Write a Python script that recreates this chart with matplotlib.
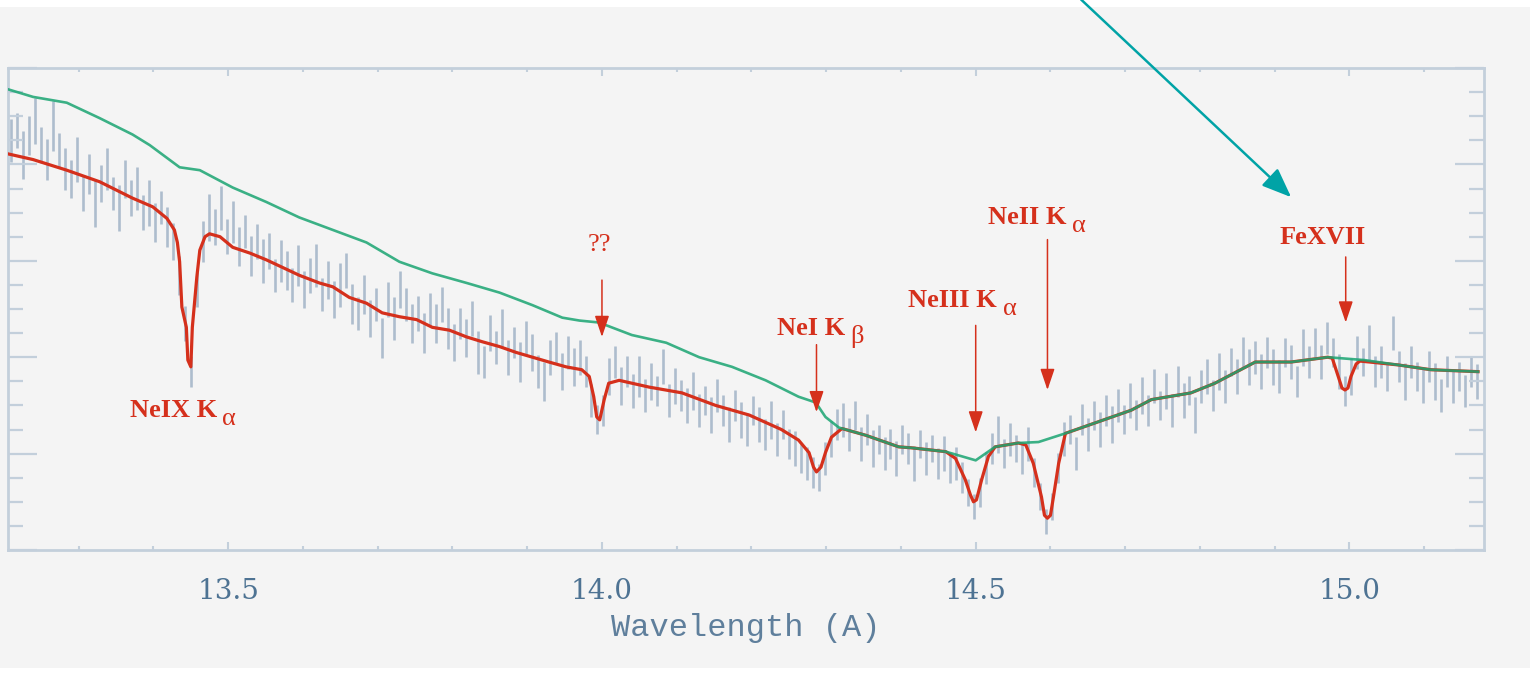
import numpy as np
import matplotlib
matplotlib.use("Agg")
import matplotlib.pyplot as plt
from matplotlib.patches import Rectangle
from matplotlib.ticker import MultipleLocator, FixedLocator, NullFormatter

# ---------------- data ----------------
wl_start = 13.210
wl_step = 0.008
flux = [
    4.25, 4.35, 4.10, 4.30, 4.45, 4.20, 4.05, 4.40, 4.15, 3.95,
    3.85, 4.05, 3.70, 3.90, 3.60, 3.80, 3.95, 3.70, 3.55, 3.85,
    3.65, 3.75, 3.50, 3.60, 3.40, 3.55, 3.35, 3.20, 2.85, 2.35,
    1.85, 2.70, 3.20, 3.45, 3.35, 3.55, 3.25, 3.40, 3.15, 3.30,
    3.05, 3.20, 3.00, 3.10, 2.85, 3.00, 2.90, 2.75, 2.95, 2.70,
    2.85, 2.95, 2.65, 2.80, 2.60, 2.75, 2.90, 2.55, 2.45, 2.65,
    2.40, 2.55, 2.20, 2.60, 2.40, 2.70, 2.55, 2.35, 2.45, 2.25,
    2.50, 2.35, 2.55, 2.30, 2.15, 2.35, 2.20, 2.40, 2.05, 1.95,
    2.25, 2.10, 2.30, 2.00, 2.15, 1.95, 2.20, 2.05, 1.85, 1.75,
    2.00, 2.10, 1.85, 2.05, 1.90, 2.00, 1.85, 1.55, 1.35, 1.45,
    1.80, 1.95, 1.70, 1.85, 1.65, 1.80, 1.60, 1.75, 1.65, 1.90,
    1.55, 1.70, 1.60, 1.50, 1.65, 1.45, 1.55, 1.40, 1.60, 1.45,
    1.30, 1.50, 1.35, 1.25, 1.45, 1.30, 1.20, 1.35, 1.15, 1.30,
    1.10, 1.05, 0.95, 0.90, 0.80, 0.75, 0.95, 1.15, 1.30, 1.35,
    1.20, 1.40, 1.10, 1.25, 1.05, 1.15, 1.00, 1.10, 0.95, 1.15,
    1.05, 0.90, 1.10, 0.95, 1.05, 0.90, 1.00, 0.85, 0.90, 0.75,
    0.60, 0.45, 0.60, 0.85, 1.05, 1.20, 1.00, 1.15, 1.05, 0.95,
    1.10, 0.80, 0.55, 0.30, 0.45, 0.85, 1.15, 1.25, 1.00, 1.35,
    1.20, 1.40, 1.25, 1.45, 1.30, 1.50, 1.35, 1.55, 1.40, 1.60,
    1.45, 1.70, 1.50, 1.65, 1.45, 1.75, 1.55, 1.65, 1.40, 1.70,
    1.80, 1.60, 1.85, 1.70, 1.95, 1.80, 2.05, 1.90, 2.00, 1.85,
    2.05, 1.90, 1.80, 2.05, 1.95, 1.75, 2.10, 1.95, 2.15, 1.95,
    2.20, 2.05, 1.85, 1.65, 1.80, 2.05, 1.95, 2.15, 1.85, 1.95,
    1.80, 2.25, 1.90, 1.75, 1.95, 1.80, 1.70, 1.90, 1.75, 1.60,
    1.85, 1.70, 1.80, 1.65, 1.85, 1.75,
]
flux_err = [
    .22, .18, .25, .20, .24, .19, .21, .26, .18, .22,
    .20, .23, .18, .21, .25, .19, .22, .17, .24, .20,
    .19, .22, .18, .24, .20, .17, .21, .19, .20, .18,
    .16, .18, .21, .24, .19, .23, .18, .22, .20, .17,
    .21, .18, .23, .19, .17, .22, .20, .18, .21, .19,
    .18, .22, .17, .20, .19, .23, .18, .21, .17, .20,
    .19, .17, .21, .18, .22, .19, .17, .20, .18, .21,
    .17, .20, .18, .21, .19, .16, .20, .18, .22, .17,
    .19, .17, .20, .18, .16, .21, .18, .19, .17, .20,
    .18, .16, .19, .17, .20, .18, .16, .17, .15, .16,
    .19, .17, .20, .16, .18, .21, .17, .19, .16, .18,
    .17, .19, .16, .18, .20, .17, .15, .19, .17, .16,
    .18, .16, .19, .17, .15, .18, .16, .20, .17, .15,
    .16, .18, .15, .17, .16, .14, .17, .19, .16, .18,
    .17, .15, .18, .16, .19, .15, .17, .16, .18, .15,
    .16, .18, .15, .17, .14, .16, .18, .15, .17, .16,
    .14, .13, .15, .17, .16, .19, .15, .17, .14, .16,
    .18, .15, .14, .13, .14, .16, .18, .15, .17, .16,
    .17, .15, .18, .16, .19, .17, .15, .18, .16, .19,
    .16, .18, .15, .19, .17, .16, .18, .15, .19, .17,
    .18, .16, .19, .17, .15, .18, .16, .19, .17, .18,
    .16, .19, .17, .15, .18, .16, .19, .17, .15, .18,
    .17, .15, .18, .16, .19, .17, .15, .18, .16, .17,
    .15, .18, .16, .19, .17, .15, .18, .16, .19, .17,
    .16, .18, .15, .17, .16, .18,
]

model_wl = [13.205, 13.239, 13.284, 13.328, 13.372, 13.399, 13.418, 13.428, 13.432, 13.435,
            13.438, 13.444, 13.446, 13.450, 13.452, 13.458, 13.462, 13.469, 13.475, 13.489,
            13.506, 13.529, 13.551, 13.573, 13.595, 13.622, 13.640, 13.662, 13.685, 13.706,
            13.729, 13.752, 13.773, 13.796, 13.819, 13.840, 13.863, 13.885, 13.907, 13.929,
            13.952, 13.973, 13.983, 13.989, 13.993, 13.997, 14.003, 14.009, 14.023, 14.063,
            14.107, 14.152, 14.197, 14.240, 14.263, 14.277, 14.283, 14.287, 14.293, 14.299,
            14.307, 14.321, 14.353, 14.397, 14.414, 14.460, 14.473, 14.486, 14.493, 14.497,
            14.501, 14.508, 14.517, 14.526, 14.557, 14.567, 14.577, 14.588, 14.592, 14.596,
            14.600, 14.604, 14.611, 14.620, 14.664, 14.708, 14.735, 14.788, 14.820, 14.874,
            14.922, 14.971, 14.977, 14.985, 14.990, 14.994, 14.998, 15.002, 15.009, 15.014,
            15.065, 15.109, 15.172]
model_f = [4.11, 4.05, 3.94, 3.82, 3.65, 3.56, 3.44, 3.32, 3.19, 2.99,
           2.52, 2.31, 1.97, 1.90, 2.31, 2.83, 3.11, 3.25, 3.28, 3.25,
           3.14, 3.08, 3.01, 2.93, 2.85, 2.77, 2.73, 2.62, 2.56, 2.46,
           2.42, 2.39, 2.31, 2.28, 2.21, 2.16, 2.11, 2.05, 2.00, 1.95,
           1.90, 1.87, 1.80, 1.59, 1.38, 1.35, 1.56, 1.73, 1.76, 1.69,
           1.63, 1.50, 1.40, 1.25, 1.14, 1.01, 0.86, 0.81, 0.86, 1.01,
           1.17, 1.26, 1.19, 1.07, 1.06, 1.02, 0.95, 0.73, 0.57, 0.50,
           0.52, 0.73, 0.97, 1.07, 1.11, 1.09, 0.90, 0.55, 0.36, 0.33,
           0.36, 0.55, 0.90, 1.21, 1.33, 1.45, 1.56, 1.63, 1.73, 1.95,
           1.95, 2.00, 1.99, 1.80, 1.68, 1.66, 1.68, 1.80, 1.93, 1.96,
           1.92, 1.87, 1.85]

cont_wl = [13.205, 13.239, 13.284, 13.328, 13.372, 13.395, 13.435, 13.462, 13.506, 13.551,
           13.595, 13.640, 13.685, 13.729, 13.773, 13.819, 13.863, 13.907, 13.947, 13.970,
           13.996, 14.040, 14.086, 14.130, 14.174, 14.219, 14.263, 14.286, 14.299, 14.317,
           14.353, 14.397, 14.414, 14.460, 14.500, 14.526, 14.557, 14.584, 14.620, 14.664,
           14.708, 14.735, 14.788, 14.820, 14.874, 14.922, 14.971, 15.020, 15.065, 15.109,
           15.172]
cont_f = [4.78, 4.70, 4.64, 4.48, 4.31, 4.20, 3.97, 3.94, 3.76, 3.61,
          3.45, 3.32, 3.19, 2.99, 2.87, 2.77, 2.67, 2.54, 2.41, 2.38,
          2.36, 2.23, 2.15, 2.00, 1.90, 1.76, 1.59, 1.53, 1.38, 1.27,
          1.19, 1.07, 1.06, 1.02, 0.93, 1.07, 1.11, 1.12, 1.21, 1.33,
          1.45, 1.56, 1.63, 1.73, 1.95, 1.95, 2.00, 1.97, 1.92, 1.87,
          1.85]

# line labels
label_main = ["NeIX K", "??", "NeI K", "NeIII K", "NeII K", "FeXVII"]
label_greek = ["α", "", "β", "α", "α", ""]
label_left = [13.368, 13.981, 14.234, 14.410, 14.517, 14.907]
label_y = [1.45, 3.16, 2.30, 2.59, 3.45, 3.24]
label_weight = ['bold', 'normal', 'bold', 'bold', 'bold', 'bold']
arrow_x = [None, 14.000, 14.287, 14.500, 14.596, 14.995]
arrow_tail = [None, 2.80, 2.13, 2.33, 3.22, 3.04]
arrow_tip = [None, 2.21, 1.43, 1.22, 1.66, 2.36]

# ---------------- figure ----------------
W, H = 1539, 675
fig = plt.figure(figsize=(W / 100, H / 100), dpi=100, facecolor='white')
fig.patches.append(Rectangle((0, 7 / H), 1530 / W, 661 / H, transform=fig.transFigure,
                             facecolor='#f4f4f4', edgecolor='none', zorder=-10))
ax = fig.add_axes([8 / W, (H - 550) / H, (1484 - 8) / W, (550 - 68) / H])
ax.set_facecolor('#f4f4f4')

wl = wl_start + wl_step * np.arange(len(flux))
flux_a = np.array(flux)
err_a = np.array(flux_err)
ax.vlines(wl, flux_a - err_a, flux_a + err_a, color='#a6b7c9', lw=1.9, alpha=0.9, zorder=1)

ax.plot(model_wl, model_f, color='#d5301c', lw=2.3, zorder=3, solid_joinstyle='round')
ax.plot(cont_wl, cont_f, color='#1aa572', lw=1.9, alpha=0.85, zorder=4, solid_joinstyle='round')

ax.set_xlim(13.2054, 15.180)
ax.set_ylim(0, 5)

spine_c = '#c3cfdb'
for s in ax.spines.values():
    s.set_color(spine_c)
    s.set_linewidth(2.0)

ax.xaxis.set_major_locator(FixedLocator([13.5, 14.0, 14.5, 15.0]))
ax.xaxis.set_minor_locator(MultipleLocator(0.1))
ax.yaxis.set_major_locator(MultipleLocator(1.0))
ax.yaxis.set_minor_locator(MultipleLocator(0.25))
ax.set_xticklabels(['13.5', '14.0', '14.5', '15.0'])
ax.yaxis.set_major_formatter(NullFormatter())

ax.tick_params(axis='x', which='major', direction='in', length=6, width=1.5, color=spine_c,
               top=True, bottom=True, pad=20, labelsize=20, labelcolor='#4e7393')
ax.tick_params(axis='x', which='minor', direction='in', length=3, width=1.5, color=spine_c,
               top=True, bottom=True)
ax.tick_params(axis='y', which='major', direction='in', length=21, width=1.6, color=spine_c,
               left=True, right=True, labelleft=False)
ax.tick_params(axis='y', which='minor', direction='in', length=11, width=1.6, color=spine_c,
               left=True, right=True)
for lab in ax.get_xticklabels():
    lab.set_fontfamily('DejaVu Serif')

ax.set_xlabel('Wavelength (A)', fontsize=23, family='Liberation Mono', color='#5f7f9c',
              labelpad=6)

red = '#d5301c'
for t, g, tx, ty, fw, axx, a0, a1 in zip(label_main, label_greek, label_left, label_y,
                                          label_weight, arrow_x, arrow_tail, arrow_tip):
    txt = ax.text(tx, ty, t, ha='left', va='center', fontsize=19, color=red,
                  family='Liberation Serif', fontweight=fw, zorder=6)
    if g:
        ax.annotate(g, xy=(1, 0), xycoords=txt, xytext=(4, -6), textcoords='offset points',
                    ha='left', va='bottom', fontsize=19, color=red,
                    family='Liberation Serif', zorder=6)
    if axx is not None:
        ax.annotate('', xy=(axx, a1), xytext=(axx, a0),
                    arrowprops=dict(arrowstyle='-|>,head_length=0.65,head_width=0.22',
                                    color=red, lw=1.1, shrinkA=0, shrinkB=0,
                                    mutation_scale=20), zorder=6)

# teal pointer arrow from above the frame
ax.annotate('', xy=(14.922, 3.66), xytext=(14.641, 5.71), annotation_clip=False,
            arrowprops=dict(arrowstyle='-|>,head_length=0.9,head_width=0.36',
                            color='#00a3a6', lw=1.8, shrinkA=0, shrinkB=0,
                            mutation_scale=20), zorder=7)

fig.savefig('out.png', dpi=100, facecolor=fig.get_facecolor())
